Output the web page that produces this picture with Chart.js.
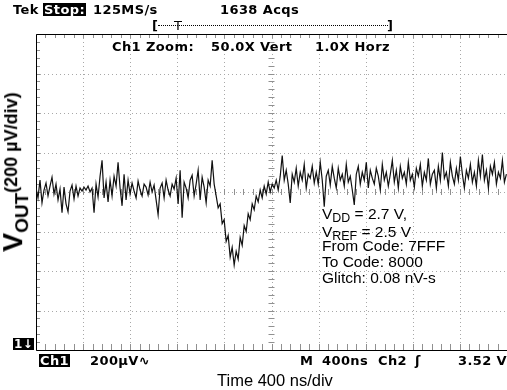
<!DOCTYPE html>
<html>
<head>
<meta charset="utf-8">
<script src="https://cdn.jsdelivr.net/npm/chart.js@4/dist/chart.umd.min.js"></script>
<style>
body{margin:0;background:#fff;}
#wrap{position:relative;width:507px;height:390px;overflow:hidden;background:#fff;}
#scope{position:absolute;left:0;top:0;}
.t{position:absolute;white-space:pre;line-height:1;color:#000;}
.tek{font-family:"DejaVu Sans";font-weight:bold;font-size:13px;letter-spacing:0.4px;}
.inv{background:#000;color:#fff;padding:0 1px;}
.ann{font-family:"Liberation Sans",Arial,sans-serif;font-size:15.5px;}
.ann sub{font-size:0.8em;vertical-align:-0.25em;line-height:0;}
#ylab{position:absolute;left:15px;top:172px;transform:translate(-50%,-50%) rotate(-90deg);white-space:nowrap;
  font-family:"Liberation Sans",Arial,sans-serif;font-weight:bold;line-height:1;}
#ylab .big{font-size:28px;}
#ylab .sub{font-size:19px;vertical-align:-0.3em;}
#ylab .unit{font-size:18px;vertical-align:0.3em;}
</style>
</head>
<body>
<div id="wrap">
<canvas id="scope" width="507" height="390"></canvas>

<div class="t tek" style="left:13px;top:3px">Tek</div>
<div class="t tek inv" style="left:43px;top:3px">Stop:</div>
<div class="t tek" style="left:93px;top:3px">125MS/s</div>
<div class="t tek" style="left:220px;top:3px">1638 Acqs</div>
<div class="t tek" style="left:152px;top:19px">[</div>
<div style="position:absolute;left:158px;top:25px;width:230px;border-top:1px dotted #000"></div>
<div class="t tek" style="left:174px;top:19px;font-weight:normal">T</div>
<div class="t tek" style="left:387px;top:19px">]</div>
<div class="t tek" style="left:112px;top:40px">Ch1 Zoom:</div>
<div class="t tek" style="left:211px;top:40px">50.0X Vert</div>
<div class="t tek" style="left:315px;top:40px">1.0X Horz</div>

<div class="t tek inv" style="left:13px;top:338px;font-size:12px">1↓</div>
<div class="t tek inv" style="left:39px;top:354px">Ch1</div>
<div class="t tek" style="left:90px;top:354px">200µV∿</div>
<div class="t tek" style="left:300px;top:354px">M</div>
<div class="t tek" style="left:322px;top:354px">400ns</div>
<div class="t tek" style="left:378px;top:354px">Ch2</div>
<div class="t tek" style="left:415px;top:354px">ʃ</div>
<div class="t tek" style="left:458px;top:354px">3.52 V</div>

<div class="t ann" style="left:217px;top:372px;font-size:16.5px">Time 400 ns/div</div>

<div class="t ann" style="left:322px;top:206px">V<sub>DD</sub> = 2.7 V,</div>
<div class="t ann" style="left:322px;top:224px">V<sub>REF</sub> = 2.5 V</div>
<div class="t ann" style="left:322px;top:238px">From Code: 7FFF</div>
<div class="t ann" style="left:322px;top:254px">To Code: 8000</div>
<div class="t ann" style="left:322px;top:270px">Glitch: 0.08 nV-s</div>

<div id="ylab"><span class="big">V</span><span class="sub">OUT</span><span class="unit">(200 µV/div)</span></div>
</div>

<script>
// scope settings
var DT = 17;            // ns per sample
var T_DIV = 400;        // ns/div
var V_DIV = 200;        // uV/div
var xDivs = 10, yDivs = 8;

// Ch1 trace, uV
var vout = [
  20, -30, 60, -55, 10, 45, -20, 30, 75, -10,
  40, -40, 15, -105, 25, -60, -100, 5, 35, -35,
  30, -20, 20, 5, 25, 10, 30, 0, 20, -105,
  40, -25, 80, 160, -30, 50, -50, 60, -20, 80,
  30, 150, 20, -70, 90, -40, 60, -10, 45, 5,
  -30, 55, 10, -20, 40, 25, -15, 50, 0, 35,
  -40, -115, 20, 45, -30, 60, 10, -20, 40, 15,
  70, -60, 110, -130, 50, 20, -30, 60, 85, -20,
  40, 110, -40, 75, 25, -55, 60, 30, 160, 40,
  -20, -80, -60, -160, -140, -250, -220, -330, -280, -370,
  -300, -340, -230, -270, -170, -200, -110, -140, -60, -90,
  -20, -50, 10, -30, 30, -10, 50, 0, 40, 20,
  60, 10, 80, 185, 60, 110, 40, -55, 90, 50,
  120, 30, 100, 60, 140, 20, 90, 70, 130, 45,
  100, 40, 150, 60, -75, 80, 110, 35, 130, 70,
  20, 120, 60, 90, 30, 140, 50, 80, 10, -65,
  90, 130, 40, 100, 60, 150, 20, 110, 70, 40,
  120, 80, 10, 140, 60, 100, 30, 90, 160, 50,
  110, 20, 130, 70, 100, 40, 150, 60, 90, 25,
  120, 80, 140, 30, 100, 60, 170, 40, 90, 110,
  20, 130, 60, 200, 70, 100, 30, 150, 80, 40,
  120, 60, 180, 90, 20, 110, 70, 140, 50, 100,
  30, 160, 80, 190, 60, 110, 20, 130, 90, 150,
  40, 100, 70, 160, 50, 90
];

var points = vout.map(function (v, i) { return {x: i * DT, y: v}; });

// graticule: dotted grid, centre cross and frame with minor ticks
var graticule = {
  id: 'graticule',
  beforeDatasetsDraw: function (chart) {
    var c = chart.ctx, xs = chart.scales.x, ys = chart.scales.y;
    var L = xs.getPixelForValue(0), R = xs.getPixelForValue(xDivs * T_DIV);
    var T = ys.getPixelForValue(yDivs / 2 * V_DIV), B = ys.getPixelForValue(-yDivs / 2 * V_DIV);
    var cx = xs.getPixelForValue(xDivs / 2 * T_DIV), cy = ys.getPixelForValue(0);
    var i, p;
    c.save();
    c.strokeStyle = '#a8a8a8';
    c.lineWidth = 1;
    c.setLineDash([1, 3]);
    for (i = 1; i < xDivs; i++) {
      p = Math.round(xs.getPixelForValue(i * T_DIV)) + 0.5;
      c.beginPath(); c.moveTo(p, T); c.lineTo(p, B); c.stroke();
    }
    for (i = 1; i < yDivs; i++) {
      p = Math.round(ys.getPixelForValue((i - yDivs / 2) * V_DIV)) + 0.5;
      c.beginPath(); c.moveTo(L, p); c.lineTo(R, p); c.stroke();
    }
    c.setLineDash([]);
    // minor ticks, 5 per division
    c.strokeStyle = '#909090';
    for (i = 0; i <= xDivs * 5; i++) {
      p = Math.round(xs.getPixelForValue(i * T_DIV / 5)) + 0.5;
      c.beginPath(); c.moveTo(p, cy - 3); c.lineTo(p, cy + 3); c.stroke();
      c.beginPath(); c.moveTo(p, T); c.lineTo(p, T + 4); c.stroke();
      c.beginPath(); c.moveTo(p, B); c.lineTo(p, B - 6); c.stroke();
    }
    for (i = 0; i <= yDivs * 5; i++) {
      p = Math.round(ys.getPixelForValue((i - yDivs * 5 / 2) * V_DIV / 5)) + 0.5;
      c.beginPath(); c.moveTo(cx - 3, p); c.lineTo(cx + 3, p); c.stroke();
      c.beginPath(); c.moveTo(L, p); c.lineTo(L + 4, p); c.stroke();
    }
    // frame
    c.strokeStyle = '#000';
    c.beginPath();
    c.moveTo(R, Math.round(T) + 0.5); c.lineTo(Math.round(L) + 0.5, Math.round(T) + 0.5);
    c.lineTo(Math.round(L) + 0.5, Math.round(B) + 0.5); c.lineTo(R, Math.round(B) + 0.5);
    c.stroke();
    c.restore();
  }
};

new Chart(document.getElementById('scope'), {
  type: 'line',
  data: {
    datasets: [{
      data: points,
      borderColor: '#111',
      borderWidth: 1.2,
      pointRadius: 0,
      tension: 0
    }]
  },
  options: {
    responsive: false,
    animation: false,
    layout: {padding: {left: 36, right: 0, top: 34, bottom: 40}},
    plugins: {legend: {display: false}, tooltip: {enabled: false}},
    scales: {
      x: {type: 'linear', min: 0, max: xDivs * T_DIV, display: false},
      y: {type: 'linear', min: -yDivs / 2 * V_DIV, max: yDivs / 2 * V_DIV, display: false}
    }
  },
  plugins: [graticule]
});
</script>
</body>
</html>
